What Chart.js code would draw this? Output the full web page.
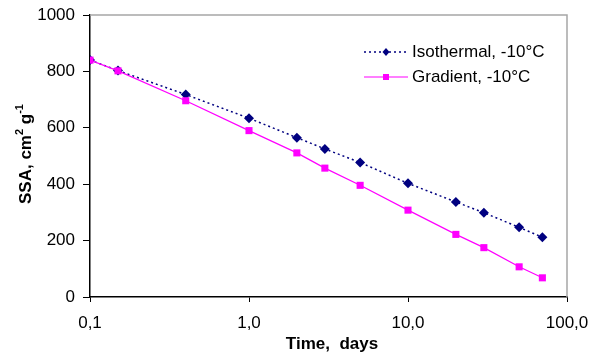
<!DOCTYPE html>
<html>
<head>
<meta charset="utf-8">
<script src="https://cdn.jsdelivr.net/npm/chart.js@4.4.1/dist/chart.umd.min.js"></script>
<style>
html,body{margin:0;padding:0;background:#fff;}
#wrap{position:relative;width:597px;height:359px;}
</style>
</head>
<body>
<div id="wrap"><canvas id="c" width="597" height="359"></canvas></div>
<script>
const times = [0.1, 0.15, 0.4, 1, 2, 3, 5, 10, 20, 30, 50, 70];
const isothermal = [840, 803, 718, 634, 565, 525, 477, 403, 337, 299, 247, 212];
const gradient = [840, 802, 696, 590, 511, 457, 396, 308, 222, 175, 107, 68];
const xTicks = [0.1, 1, 10, 100];
const seriesNames = ['Isothermal, -10°C', 'Gradient, -10°C'];
const xTitle = 'Time,  days';
const yTitleParts = ['SSA, cm', '2', ' g', '-1'];

const FONT = '"Liberation Sans", Arial, sans-serif';
const NAVY = '#000080';
const MAG = '#FF00FF';

const overlay = {
  id: 'overlay',
  afterDraw(chart) {
    const ctx = chart.ctx;
    const a = chart.chartArea;
    ctx.save();
    // gray top and right border
    ctx.strokeStyle = '#a6a6a6';
    ctx.lineWidth = 1.5;
    ctx.beginPath();
    ctx.moveTo(a.left, a.top);
    ctx.lineTo(a.right, a.top);
    ctx.lineTo(a.right, a.bottom);
    ctx.stroke();

    // legend
    const lx0 = 364, lx1 = 408, tx = 412;
    const rows = [
      {y: 52, color: NAVY, dash: [2, 3], shape: 'diamond', text: seriesNames[0]},
      {y: 77, color: MAG, dash: [], shape: 'square', text: seriesNames[1]}
    ];
    rows.forEach(r => {
      ctx.strokeStyle = r.color;
      ctx.lineWidth = r.shape === 'diamond' ? 1.5 : 1.2;
      ctx.setLineDash(r.dash);
      ctx.beginPath();
      ctx.moveTo(lx0, r.y);
      ctx.lineTo(lx1, r.y);
      ctx.stroke();
      ctx.setLineDash([]);
      ctx.fillStyle = r.color;
      const cx = (lx0 + lx1) / 2;
      if (r.shape === 'diamond') {
        ctx.beginPath();
        ctx.moveTo(cx, r.y - 4);
        ctx.lineTo(cx + 3.5, r.y);
        ctx.lineTo(cx, r.y + 4);
        ctx.lineTo(cx - 3.5, r.y);
        ctx.closePath();
        ctx.fill();
      } else {
        ctx.fillRect(cx - 3, r.y - 3, 6, 6);
      }
      ctx.fillStyle = '#000';
      ctx.font = '17px ' + FONT;
      ctx.textAlign = 'left';
      ctx.textBaseline = 'middle';
      ctx.fillText(r.text, tx, r.y);
    });

    // x title
    ctx.fillStyle = '#000';
    ctx.font = 'bold 17px ' + FONT;
    ctx.textAlign = 'center';
    ctx.textBaseline = 'middle';
    ctx.fillText(xTitle, 332, 344);

    // y title with superscripts
    ctx.translate(26, 154);
    ctx.rotate(-Math.PI / 2);
    const big = 'bold 17px ' + FONT;
    const small = 'bold 11px ' + FONT;
    const fonts = [big, small, big, small];
    const offs = [0, -6, 0, -6];
    let total = 0;
    yTitleParts.forEach((p, i) => { ctx.font = fonts[i]; total += ctx.measureText(p).width; });
    let x = -total / 2;
    ctx.textAlign = 'left';
    yTitleParts.forEach((p, i) => {
      ctx.font = fonts[i];
      ctx.fillText(p, x, offs[i]);
      x += ctx.measureText(p).width;
    });
    ctx.restore();
  }
};

new Chart(document.getElementById('c'), {
  type: 'line',
  data: {
    datasets: [
      {
        label: seriesNames[0],
        data: times.map((t, i) => ({x: t, y: isothermal[i]})),
        borderColor: NAVY,
        backgroundColor: NAVY,
        borderWidth: 1.5,
        borderDash: [2, 3],
        pointStyle: 'rectRot',
        pointRadius: 5,
        pointBorderWidth: 0,
        tension: 0,
        order: 2
      },
      {
        label: seriesNames[1],
        data: times.map((t, i) => ({x: t, y: gradient[i]})),
        borderColor: MAG,
        backgroundColor: MAG,
        borderWidth: 1.2,
        pointStyle: 'rect',
        pointRadius: 5,
        pointBorderWidth: 0,
        tension: 0,
        order: 1
      }
    ]
  },
  options: {
    responsive: false,
    animation: false,
    layout: {padding: {left: 0, right: 30, top: 15, bottom: 0}},
    plugins: {legend: {display: false}, tooltip: {enabled: false}},
    scales: {
      x: {
        type: 'logarithmic',
        min: 0.1,
        max: 100,
        afterBuildTicks(s) { s.ticks = xTicks.map(v => ({value: v})); },
        afterFit(s) { s.height = 62; s.paddingLeft = 0; s.paddingRight = 0; },
        ticks: {
          autoSkip: false,
          maxRotation: 0,
          color: '#000',
          font: {family: FONT, size: 17},
          padding: 11,
          callback: v => Number(v).toFixed(1).replace('.', ',')
        },
        grid: {drawOnChartArea: false, drawTicks: true, tickLength: 5, color: '#000'},
        border: {display: true, color: '#000', width: 1.5}
      },
      y: {
        min: 0,
        max: 1000,
        afterFit(s) { s.width = 90; s.paddingTop = 0; s.paddingBottom = 0; },
        ticks: {
          stepSize: 200,
          color: '#000',
          font: {family: FONT, size: 17},
          padding: 8,
          callback: v => String(v)
        },
        grid: {drawOnChartArea: false, drawTicks: true, tickLength: 7, color: '#000'},
        border: {display: true, color: '#000', width: 1.5}
      }
    }
  },
  plugins: [overlay]
});
</script>
</body>
</html>
